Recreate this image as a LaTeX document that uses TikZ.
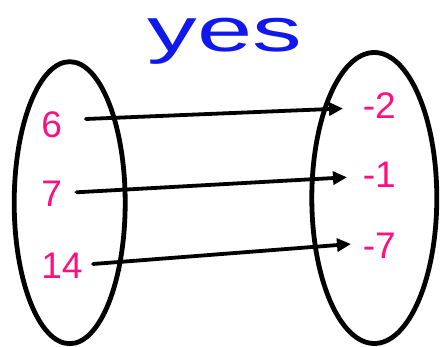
\documentclass[tikz,border=0pt]{standalone}
\usepackage{fontspec}
\setmainfont{Liberation Sans}
\usetikzlibrary{shapes.geometric,arrows.meta}
\definecolor{numpink}{RGB}{255,16,128}
\definecolor{inkblue}{RGB}{16,24,235}
\begin{document}
\begin{tikzpicture}[x=1pt,y=1pt,>={Triangle[length=14pt,width=13pt]},line width=3.8pt,line cap=round]
  \tikzstyle{setoval}=[draw, ellipse, line width=4.8pt, inner sep=0pt]
  \tikzstyle{elem}=[anchor=west, inner sep=0pt, text=numpink, font=\fontsize{37}{37}\selectfont]
  \useasboundingbox (0,0) rectangle (442,347);

  \node[anchor=base, inner sep=0pt, text=inkblue, xscale=1.6, font=\fontsize{62}{62}\selectfont] (title) at (225,295) {yes};

  \node[setoval, minimum width=111pt, minimum height=282pt] (domain) at (69.7,144.3) {};
  \node[setoval, minimum width=125pt, minimum height=291pt] (range) at (374.3,149) {};

  \node[elem] (six) at (39.5,222) {6};
  \node[elem] (seven) at (39.5,153) {7};
  \node[elem] (fourteen) at (39.5,81.5) {14};
  \node[elem] (mtwo) at (361,241.5) {-2};
  \node[elem] (mone) at (361,172) {-1};
  \node[elem] (mseven) at (361,101.7) {-7};

  \draw[->] ([xshift=22pt,yshift=6pt]six.east) -- ([xshift=-18pt,yshift=-3pt]mtwo.west);
  \draw[->] ([xshift=12.6pt,yshift=1.7pt]seven.east) -- ([xshift=-14pt,yshift=-2.3pt]mone.west);
  \draw[->] ([xshift=8.6pt,yshift=1.5pt]fourteen.east) -- ([xshift=-10pt,yshift=1.3pt]mseven.west);
\end{tikzpicture}
\end{document}
